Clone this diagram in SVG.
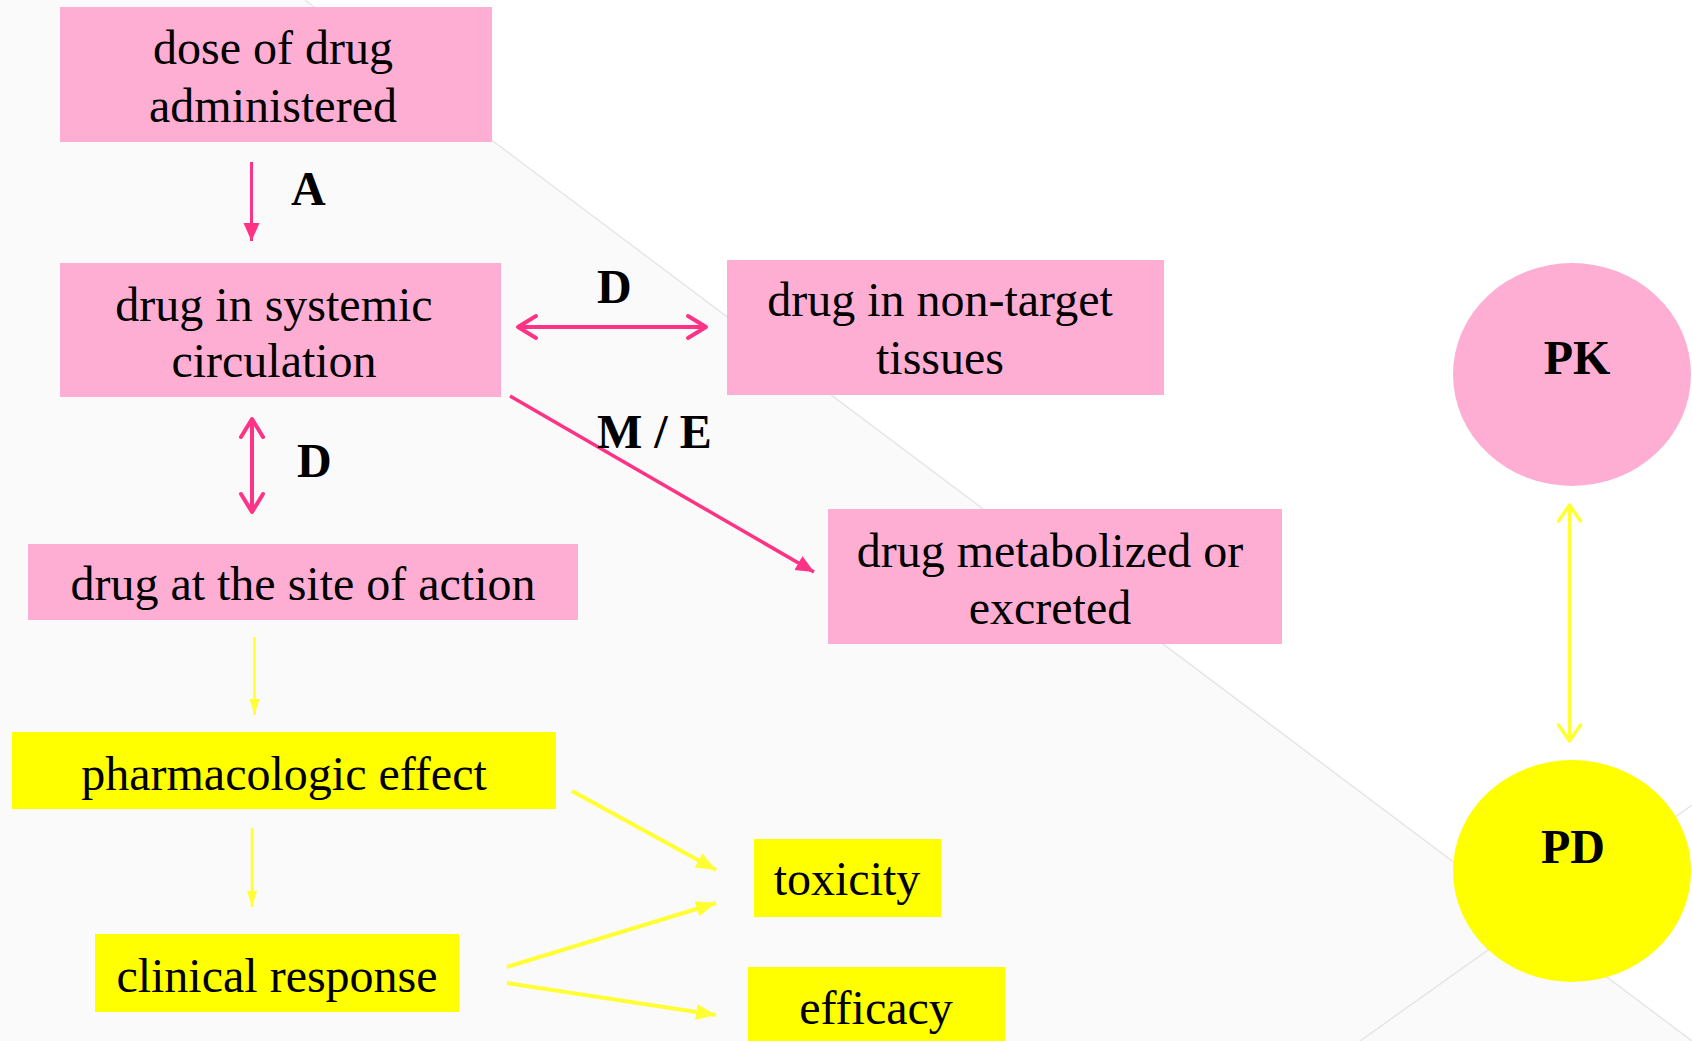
<svg xmlns="http://www.w3.org/2000/svg" width="1692" height="1041" viewBox="0 0 1692 1041">
<style>
.pk{fill:#ffaed3}
.pd{fill:#ffff00}
.t{font-family:"Liberation Serif","Times New Roman",serif;font-size:48px;fill:#000;text-anchor:middle}
.b{font-family:"Liberation Serif","Times New Roman",serif;font-size:48px;font-weight:bold;fill:#000}
.pl{stroke:#ff3385;fill:none}
.yl{stroke:#ffff33;fill:none}
</style>
<defs>
<marker id="pTri" markerUnits="userSpaceOnUse" markerWidth="20" markerHeight="20" viewBox="0 0 20 20" refX="18" refY="10" orient="auto">
<path d="M0,2 L18,10 L0,18 Z" fill="#ff3385"/>
</marker>
<marker id="pChev" markerUnits="userSpaceOnUse" markerWidth="30" markerHeight="30" viewBox="0 0 30 30" refX="24" refY="15" orient="auto-start-reverse">
<path d="M6,4 L24,15 L6,26" fill="none" stroke="#ff3385" stroke-width="4" stroke-linecap="round" stroke-linejoin="round"/>
</marker>
<marker id="yTri" markerUnits="userSpaceOnUse" markerWidth="24" markerHeight="24" viewBox="0 0 24 24" refX="20" refY="12" orient="auto">
<path d="M0,4 L20,12 L0,20 Z" fill="#ffff33"/>
</marker>
<marker id="yThin" markerUnits="userSpaceOnUse" markerWidth="20" markerHeight="20" viewBox="0 0 20 20" refX="16" refY="10" orient="auto">
<path d="M0,5 L16,10 L0,15 Z" fill="#ffff33"/>
</marker>
<marker id="yChev" markerUnits="userSpaceOnUse" markerWidth="30" markerHeight="30" viewBox="0 0 30 30" refX="24" refY="15" orient="auto-start-reverse">
<path d="M8,4 L24,15 L8,26" fill="none" stroke="#ffff33" stroke-width="3.5" stroke-linecap="round" stroke-linejoin="round"/>
</marker>
</defs>
<g id="background">
<rect x="0" y="0" width="1692" height="1041" fill="#ffffff"/>
<polygon points="0,0 305,0 1692,1041 0,1041" fill="#fafafa"/>
<line x1="305" y1="0" x2="1692" y2="1041" stroke="#e6e6e6" stroke-width="1.5"/>
<line x1="1360" y1="1041" x2="1692" y2="805" stroke="#e6e6e6" stroke-width="1.5"/>
</g>
<g id="connectors">
<line class="pl" x1="251.5" y1="162" x2="251.5" y2="241" stroke-width="3" marker-end="url(#pTri)"/>
<line class="pl" x1="518" y1="327" x2="706" y2="327" stroke-width="4" marker-start="url(#pChev)" marker-end="url(#pChev)"/>
<line class="pl" x1="252" y1="419" x2="252" y2="512" stroke-width="4" marker-start="url(#pChev)" marker-end="url(#pChev)"/>
<line class="pl" x1="510" y1="396" x2="814" y2="572" stroke-width="3.5" marker-end="url(#pTri)"/>
<line class="yl" x1="254.5" y1="637" x2="254.5" y2="715" stroke-width="2.5" marker-end="url(#yThin)"/>
<line class="yl" x1="252" y1="828" x2="252" y2="907" stroke-width="2.5" marker-end="url(#yThin)"/>
<line class="yl" x1="572" y1="791" x2="716" y2="870" stroke-width="4" marker-end="url(#yTri)"/>
<line class="yl" x1="507" y1="967" x2="716" y2="903" stroke-width="4" marker-end="url(#yTri)"/>
<line class="yl" x1="507" y1="983" x2="716" y2="1015" stroke-width="4" marker-end="url(#yTri)"/>
<line class="yl" x1="1569.5" y1="505" x2="1569.5" y2="741" stroke-width="3.5" marker-start="url(#yChev)" marker-end="url(#yChev)"/>
</g>
<g id="labels">
<text class="b" x="291" y="205">A</text>
<text class="b" x="597" y="303">D</text>
<text class="b" x="297" y="477">D</text>
<text class="b" x="597" y="448">M / E</text>
</g>
<g id="dose">
<rect class="pk" x="60" y="7" width="432" height="135"/>
<text class="t" x="273" y="64">dose of drug</text>
<text class="t" x="273" y="122">administered</text>
</g>
<g id="systemic">
<rect class="pk" x="60" y="263" width="441" height="134"/>
<text class="t" x="274" y="321">drug in systemic</text>
<text class="t" x="274" y="377">circulation</text>
</g>
<g id="nontarget">
<rect class="pk" x="727" y="260" width="437" height="135"/>
<text class="t" x="940" y="316">drug in non-target</text>
<text class="t" x="940" y="374">tissues</text>
</g>
<g id="metabolized">
<rect class="pk" x="828" y="509" width="454" height="135"/>
<text class="t" x="1050" y="567">drug metabolized or</text>
<text class="t" x="1050" y="624">excreted</text>
</g>
<g id="site">
<rect class="pk" x="28" y="544" width="550" height="76"/>
<text class="t" x="303" y="600">drug at the site of action</text>
</g>
<g id="effect">
<rect class="pd" x="12" y="732" width="544" height="77"/>
<text class="t" x="284" y="790">pharmacologic effect</text>
</g>
<g id="clinical">
<rect class="pd" x="95" y="934" width="364" height="78"/>
<text class="t" x="277" y="992">clinical response</text>
</g>
<g id="toxicity">
<rect class="pd" x="754" y="839" width="187" height="78"/>
<text class="t" x="847" y="895">toxicity</text>
</g>
<g id="efficacy">
<rect class="pd" x="748" y="967" width="257" height="80"/>
<text class="t" x="876" y="1024">efficacy</text>
</g>
<g id="PK">
<ellipse class="pk" cx="1572" cy="374.5" rx="119" ry="111.5"/>
<text class="b" x="1577" y="374" text-anchor="middle">PK</text>
</g>
<g id="PD">
<ellipse class="pd" cx="1572" cy="871" rx="119" ry="111"/>
<text class="b" x="1573" y="863" text-anchor="middle">PD</text>
</g>
</svg>
